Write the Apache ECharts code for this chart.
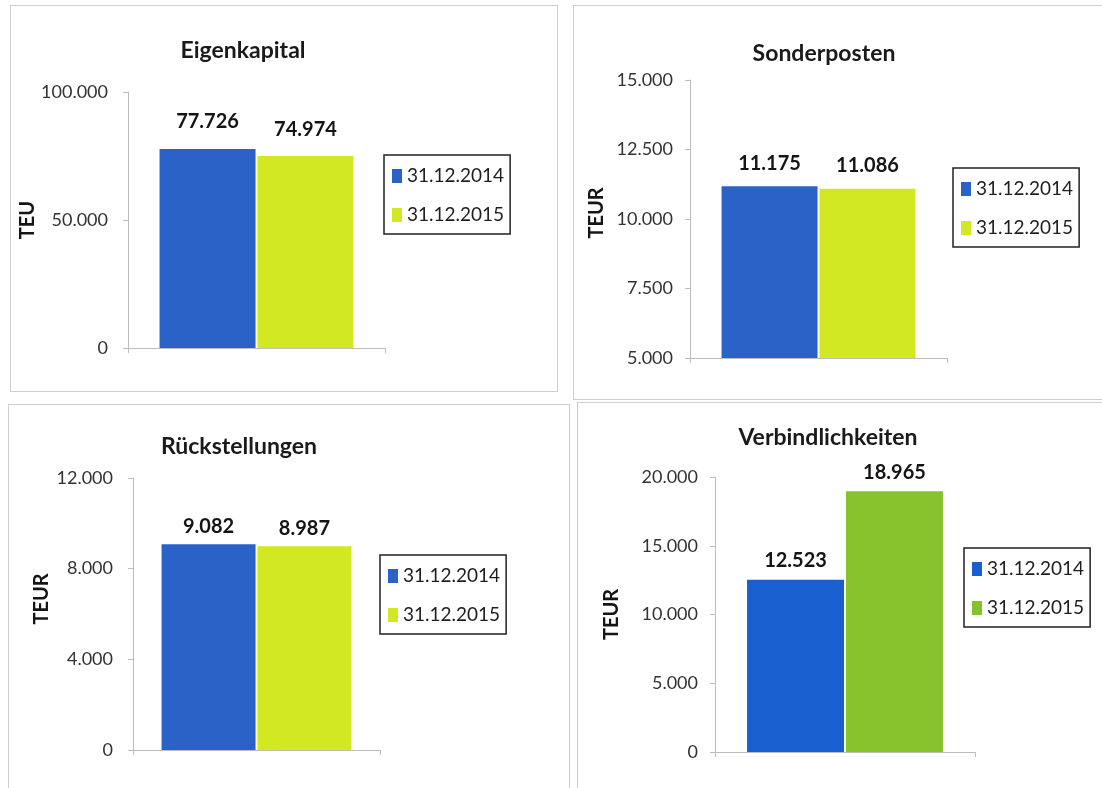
<!DOCTYPE html>
<html lang="de">
<head>
	<meta charset="UTF-8">
	<title>Bilanzpositionen</title>
	<style>
		body { margin: 0; background: #fff; width: 1102px; height: 788px; position: relative; overflow: hidden; }
		.panel { position: absolute; border: 1px solid #cfcfcf; box-sizing: border-box; }
	</style>
</head>
<body>
	<div class="panel" id="p0" style="left:10px; top:5px; width:548px; height:387px;"></div>
	<div class="panel" id="p1" style="left:573px; top:5px; width:535px; height:395px;"></div>
	<div class="panel" id="p2" style="left:8px; top:404px; width:562px; height:390px;"></div>
	<div class="panel" id="p3" style="left:577px; top:402px; width:530px; height:392px;"></div>
<script src="https://cdn.jsdelivr.net/npm/echarts@6/dist/echarts.min.js"></script>
<script>
	// Daten
	var legendNames = ['31.12.2014', '31.12.2015'];
	var panelTitles = ['Eigenkapital', 'Sonderposten', 'Rückstellungen', 'Verbindlichkeiten'];
	var axisNames = ['TEU', 'TEUR', 'TEUR', 'TEUR'];
	var values2014 = [77726, 11175, 9082, 12523];
	var values2015 = [74974, 11086, 8987, 18965];
	var axisMin = [0, 5000, 0, 0];
	var axisMax = [100000, 15000, 12000, 20000];
	var axisStep = [50000, 2500, 4000, 5000];
	var colors2014 = ['#2b62c8', '#2b62c8', '#2b62c8', '#1a5fd0'];
	var colors2015 = ['#d2e823', '#d2e823', '#d2e823', '#86c22c'];

	// Layout je Panel (relativ zum Panel-Div)
	var layouts = [
		{ grid: [117, 86, 257, 256], title: [232, 45], nameGap: 85, namePad: 0, margin: 20, legend: [373, 149], bw: 96, dist: 17 },
		{ grid: [116, 74, 257, 278], title: [250, 48], nameGap: 83, namePad: 12, margin: 17, legend: [379, 162], bw: 96, dist: 13 },
		{ grid: [124, 73, 247, 272], title: [230, 42], nameGap: 81, namePad: 30, margin: 20, legend: [371, 150], bw: 94, dist: 8 },
		{ grid: [137, 74, 260, 275], title: [250, 35], nameGap: 93, namePad: 0, margin: 17, legend: [386, 145], bw: 97, dist: 9 }
	];

	var fontFam = 'Lato, "Open Sans", sans-serif';

	// Tausenderpunkt
	function fmt(v) {
		return String(v).replace(/\B(?=(\d{3})+(?!\d))/g, '.');
	}

	function makePanel(i) {
		var L = layouts[i];
		var chart = echarts.init(document.getElementById('p' + i), null, { renderer: 'canvas' });
		var labelCfg = {
			show: true,
			position: 'top',
			distance: L.dist,
			fontFamily: fontFam,
			fontWeight: 'bold',
			fontSize: 20,
			color: '#151515',
			formatter: function (p) { return fmt(p.value); }
		};
		var option = {
			animation: false,
			graphic: [{
				type: 'text',
				x: L.title[0],
				y: L.title[1],
				style: {
					text: panelTitles[i],
					align: 'center',
					verticalAlign: 'middle',
					fontFamily: fontFam,
					fontWeight: 'bold',
					fontSize: 23,
					fill: '#1a1a1a'
				}
			}],
			legend: {
				orient: 'vertical',
				left: L.legend[0],
				top: L.legend[1],
				padding: [11, 6, 9, 8],
				itemGap: 19,
				itemWidth: 10,
				itemHeight: 14,
				borderColor: '#222',
				borderWidth: 1.5,
				icon: 'rect',
				textStyle: { fontFamily: fontFam, fontSize: 19, lineHeight: 20, color: '#1e1e1e' },
				data: legendNames
			},
			grid: { left: L.grid[0], top: L.grid[1], width: L.grid[2], height: L.grid[3] },
			xAxis: {
				type: 'category',
				data: [''],
				axisLine: { lineStyle: { color: '#bdbdbd', width: 1 } },
				axisTick: { show: true, length: 5, lineStyle: { color: '#bdbdbd' } },
				axisLabel: { show: false },
				splitLine: { show: false }
			},
			yAxis: {
				type: 'value',
				min: axisMin[i],
				max: axisMax[i],
				interval: axisStep[i],
				name: axisNames[i],
				nameLocation: 'middle',
				nameGap: L.nameGap,
				nameTextStyle: {
					fontFamily: fontFam, fontWeight: 'bold', fontSize: 20, color: '#151515',
					padding: [0, 0, 0, L.namePad]
				},
				axisLine: { show: true, lineStyle: { color: '#bdbdbd', width: 1 } },
				axisTick: { show: true, length: 5, lineStyle: { color: '#bdbdbd' } },
				splitLine: { show: false },
				axisLabel: {
					margin: L.margin,
					fontFamily: fontFam,
					fontSize: 18,
					color: '#333',
					formatter: fmt
				}
			},
			series: [
				{
					name: legendNames[0], type: 'bar', barWidth: L.bw, barGap: '2%',
					itemStyle: { color: colors2014[i] },
					label: labelCfg,
					data: [values2014[i]]
				},
				{
					name: legendNames[1], type: 'bar', barWidth: L.bw, barGap: '2%',
					itemStyle: { color: colors2015[i] },
					label: labelCfg,
					data: [values2015[i]]
				}
			]
		};
		chart.setOption(option);
	}

	for (var i = 0; i < 4; i++) {
		makePanel(i);
	}
</script>
</body>
</html>
